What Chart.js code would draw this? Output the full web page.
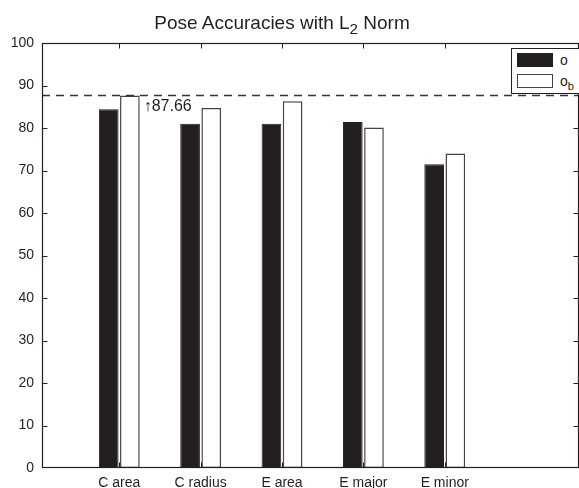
<!DOCTYPE html>
<html>
<head>
<meta charset="utf-8">
<script src="https://cdn.jsdelivr.net/npm/chart.js@4"></script>
<style>
  html, body { margin: 0; padding: 0; background: #fff; }
  #wrap { position: relative; width: 579px; height: 488px; overflow: hidden; font-family: "Liberation Sans", Arial, sans-serif; color: #231f20; }
  #c { position: absolute; left: 0; top: 0; }
  #title { position: absolute; left: 0; top: 13px; width: 564px; text-align: center; font-size: 19px; line-height: 19px; white-space: nowrap; }
  #title sub, #legend sub { font-size: 0.8em; vertical-align: -0.35em; line-height: 0; }
  #legend { position: absolute; left: 511px; top: 48px; width: 80px; height: 46px; border: 1px solid #231f20; background: #fff; box-sizing: border-box; }
  .sw { position: absolute; left: 5px; width: 36px; height: 14px; box-sizing: border-box; }
  .lab { position: absolute; left: 48px; font-size: 14px; line-height: 14px; }
</style>
</head>
<body>
<div id="wrap">
  <canvas id="c" width="579" height="488"></canvas>
  <div id="title"></div>
  <div id="legend"></div>
</div>
<script>
// ---- data ----
const titleMain = "Pose Accuracies with L";
const titleSub = "2";
const titleTail = " Norm";
const categories = ["C area", "C radius", "E area", "E major", "E minor"];
const seriesNames = ["o", "o_b"];
const seriesO  = [84.4, 81.0, 81.0, 81.4, 71.5];
const seriesOb = [87.66, 84.7, 86.3, 80.1, 74.0];
const yTicks = [0, 10, 20, 30, 40, 50, 60, 70, 80, 90, 100];
const refValue = 87.66;
const refLabel = "\u2191" + refValue.toFixed(2);

const INK = "#231f20";

document.getElementById("title").innerHTML = titleMain + "<sub>" + titleSub + "</sub>" + titleTail;

// legend (HTML)
function legendText(s) {
  const p = s.split("_");
  return p.length > 1 ? p[0] + "<sub>" + p[1] + "</sub>" : s;
}
const legend = document.getElementById("legend");
legend.innerHTML =
  '<div class="sw" style="top:4px;background:' + INK + ';"></div>' +
  '<div class="lab" style="top:4px;">' + legendText(seriesNames[0]) + '</div>' +
  '<div class="sw" style="top:25px;background:#fff;border:1.5px solid #444;"></div>' +
  '<div class="lab" style="top:25px;">' + legendText(seriesNames[1]) + '</div>';

const framePlugin = {
  id: "frame",
  afterDatasetsDraw(chart) {
    const { ctx, chartArea: a, scales } = chart;
    const y = scales.y, x = scales.x;
    ctx.save();
    // reference dashed line
    const yr = Math.round(y.getPixelForValue(refValue)) + 0.5;
    ctx.strokeStyle = "#333";
    ctx.lineWidth = 1.5;
    ctx.setLineDash([8, 6]);
    ctx.beginPath();
    ctx.moveTo(a.left, yr);
    ctx.lineTo(a.right, yr);
    ctx.stroke();
    ctx.setLineDash([]);
    // annotation next to the bar holding the reference value
    const idx = seriesOb.indexOf(refValue);
    const el = chart.getDatasetMeta(1).data[idx];
    ctx.fillStyle = INK;
    ctx.font = '16px "Liberation Sans", Arial, sans-serif';
    ctx.textBaseline = "alphabetic";
    ctx.textAlign = "left";
    ctx.fillText(refLabel, el.x + el.width / 2 + 4, yr + 15.5);
    // frame
    ctx.strokeStyle = INK;
    ctx.lineWidth = 1.2;
    const L = Math.round(a.left) + 0.5, R = Math.round(a.right) - 0.5;
    const T = Math.round(a.top) + 0.5, B = Math.round(a.bottom) - 0.5;
    ctx.strokeRect(L, T, R - L, B - T);
    // inside ticks
    ctx.lineWidth = 1;
    ctx.beginPath();
    y.ticks.forEach(t => {
      if (t.value <= y.min || t.value >= y.max) return;
      const py = Math.round(y.getPixelForValue(t.value)) + 0.5;
      ctx.moveTo(L, py); ctx.lineTo(L + 5, py);
      ctx.moveTo(R, py); ctx.lineTo(R - 5, py);
    });
    x.ticks.forEach(t => {
      const px = Math.round(x.getPixelForValue(t.value)) + 0.5;
      ctx.moveTo(px, T); ctx.lineTo(px, T + 5);
      ctx.moveTo(px, B); ctx.lineTo(px, B - 5);
    });
    ctx.stroke();
    ctx.restore();
  }
};

new Chart(document.getElementById("c"), {
  type: "bar",
  data: {
    datasets: [
      {
        label: seriesNames[0],
        data: categories.map((c, i) => ({ x: i + 1, y: seriesO[i] })),
        backgroundColor: INK,
        borderColor: INK,
        borderWidth: 1,
        borderSkipped: false
      },
      {
        label: seriesNames[1],
        data: categories.map((c, i) => ({ x: i + 1, y: seriesOb[i] })),
        backgroundColor: "#ffffff",
        borderColor: "#444",
        borderWidth: 1.5,
        borderSkipped: false
      }
    ]
  },
  options: {
    responsive: false,
    animation: false,
    devicePixelRatio: 1,
    categoryPercentage: 0.52,
    barPercentage: 0.93,
    layout: { padding: { top: 43, right: 0, left: 0, bottom: 0 } },
    plugins: { legend: { display: false }, title: { display: false }, tooltip: { enabled: false } },
    scales: {
      x: {
        type: "linear",
        offset: false,
        min: 0.05,
        max: 6.65,
        afterBuildTicks: s => { s.ticks = categories.map((c, i) => ({ value: i + 1 })); },
        afterFit: s => { s.height = 20; },
        ticks: {
          autoSkip: false,
          maxRotation: 0,
          padding: 7,
          color: INK,
          font: { family: '"Liberation Sans", Arial, sans-serif', size: 14 },
          callback: v => categories[v - 1]
        },
        grid: { display: false, drawTicks: false },
        border: { display: false }
      },
      y: {
        min: 0,
        max: 100,
        afterBuildTicks: s => { s.ticks = yTicks.map(v => ({ value: v })); },
        afterFit: s => { s.width = 42; },
        ticks: {
          padding: 8,
          color: INK,
          font: { family: '"Liberation Sans", Arial, sans-serif', size: 14 }
        },
        grid: { display: false, drawTicks: false },
        border: { display: false }
      }
    }
  },
  plugins: [framePlugin]
});
</script>
</body>
</html>
